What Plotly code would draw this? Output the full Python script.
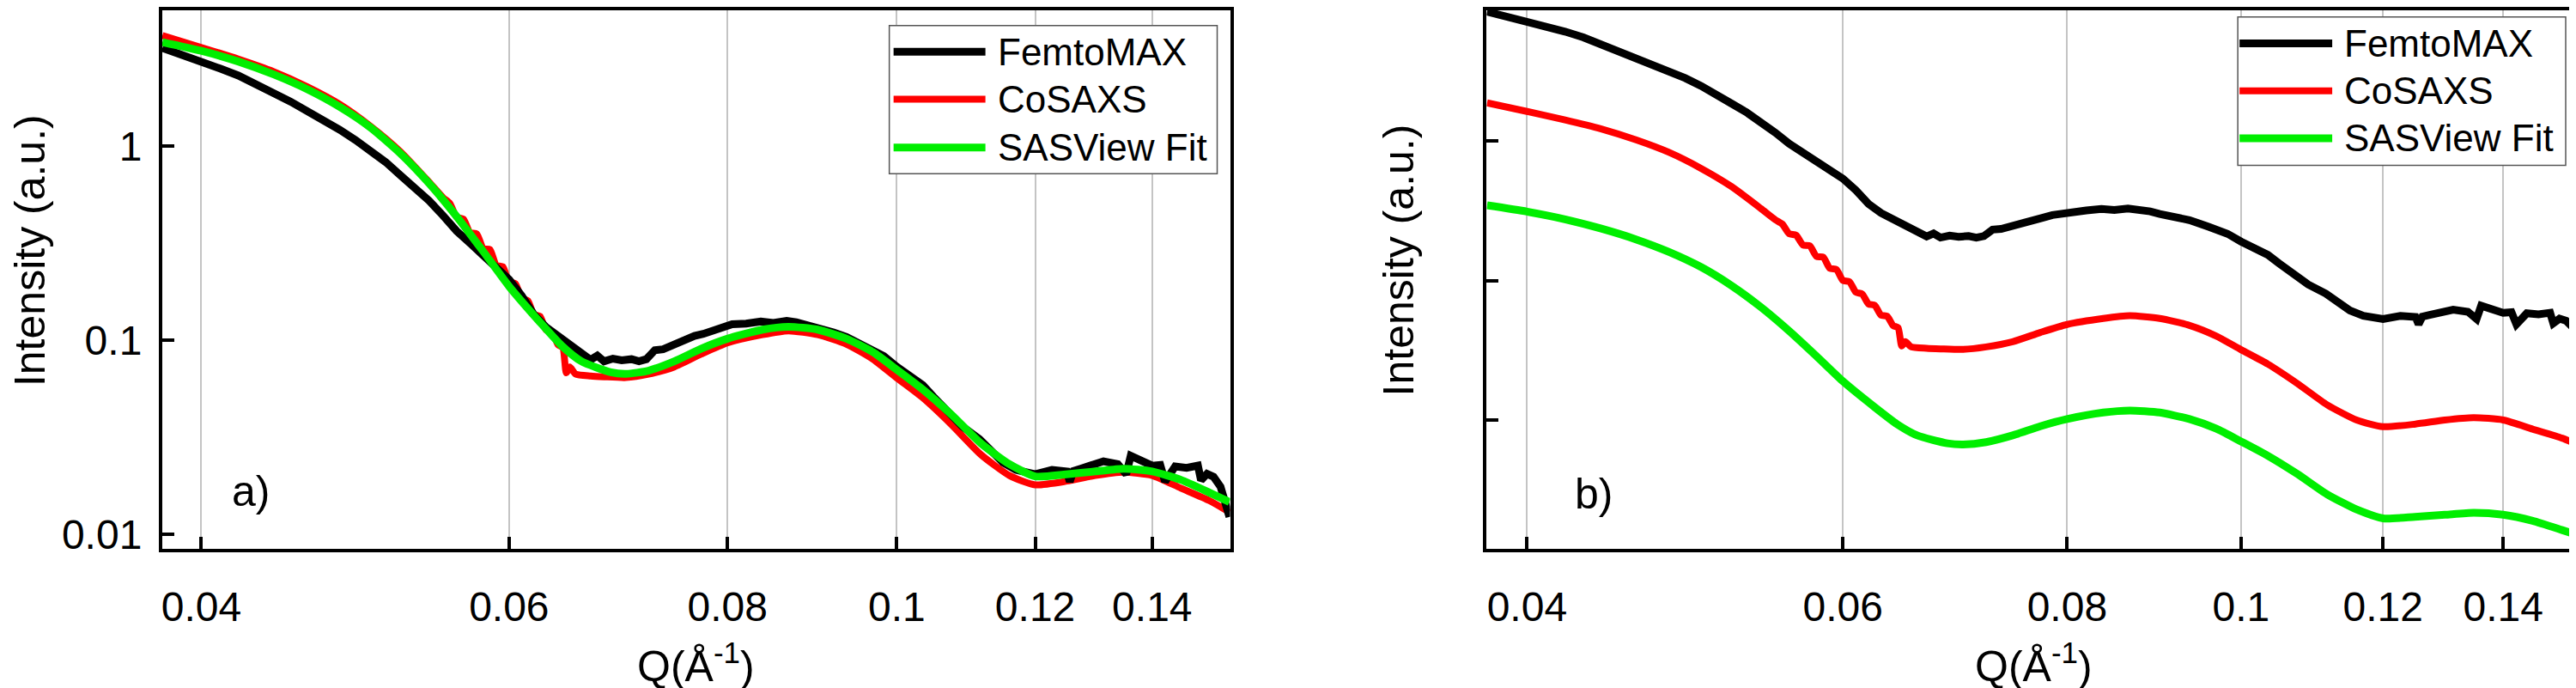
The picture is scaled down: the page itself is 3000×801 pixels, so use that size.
import plotly.graph_objs as go
from plotly.subplots import make_subplots

# FemtoMAX scattering curve (black), read off panel a)
q_femto = [0.038, 0.039, 0.040, 0.041, 0.042, 0.043, 0.044, 0.045, 0.046, 0.047,
           0.048, 0.049, 0.050, 0.051, 0.052, 0.053, 0.054, 0.055, 0.056, 0.057,
           0.058, 0.059, 0.060, 0.061, 0.062, 0.063, 0.064, 0.065, 0.066, 0.0668,
           0.0674, 0.068, 0.0688, 0.0696, 0.0705, 0.0712, 0.0719, 0.0727, 0.0735, 0.0746,
           0.0756, 0.0766, 0.0775, 0.0785, 0.0795, 0.0805, 0.082, 0.0836, 0.085, 0.0865,
           0.0876, 0.089, 0.0901, 0.092, 0.0936, 0.096, 0.0983, 0.100, 0.1018, 0.1035,
           0.105, 0.107, 0.109, 0.1115, 0.1133, 0.115, 0.117, 0.120, 0.1227, 0.1251,
           0.1256, 0.1262, 0.1274, 0.1295, 0.1313, 0.1338, 0.1353, 0.1361, 0.1379, 0.140,
           0.1415, 0.1424, 0.1443, 0.1465, 0.1487, 0.1493, 0.1505, 0.1518, 0.1532, 0.1541,
           0.155]
i_femto = [3.22, 2.98, 2.73, 2.52, 2.32, 2.11, 1.88, 1.70, 1.53, 1.37,
           1.22, 1.08, 0.95, 0.83, 0.71, 0.615, 0.525, 0.44, 0.366, 0.317,
           0.272, 0.238, 0.206, 0.170, 0.136, 0.117, 0.105, 0.095, 0.087, 0.0794,
           0.0834, 0.078, 0.0805, 0.079, 0.080, 0.078, 0.080, 0.089, 0.090, 0.0955,
           0.099, 0.1055, 0.108, 0.113, 0.116, 0.121, 0.122, 0.125, 0.123, 0.126,
           0.124, 0.120, 0.115, 0.110, 0.104, 0.093, 0.083, 0.0731, 0.065, 0.0587,
           0.051, 0.0427, 0.036, 0.031, 0.0265, 0.0235, 0.0215, 0.0204, 0.0215, 0.0211,
           0.0187, 0.0212, 0.0218, 0.0226, 0.0238, 0.0230, 0.0204, 0.0254, 0.0240, 0.0226,
           0.0228, 0.0187, 0.0224, 0.0220, 0.0226, 0.0190, 0.0205, 0.0198, 0.0176, 0.0140,
           0.0123]

# CoSAXS curve (red)
q_cosaxs = [0.038, 0.040, 0.042, 0.044, 0.046, 0.048, 0.050, 0.052, 0.054, 0.0550,
            0.0555, 0.0560, 0.0565, 0.0570, 0.0575, 0.0580, 0.0585, 0.0590, 0.0595, 0.0600,
            0.0605, 0.0610, 0.0615, 0.0620, 0.0625, 0.0630, 0.0635, 0.0640, 0.0644, 0.0647,
            0.0650, 0.0655, 0.0668, 0.0680, 0.0700, 0.0721, 0.0746, 0.0773, 0.0800, 0.0838,
            0.0867, 0.0901, 0.0936, 0.0969, 0.1000, 0.1035, 0.1075, 0.1117, 0.1160, 0.1200,
            0.1251, 0.1299, 0.1348, 0.1400, 0.1454, 0.1510, 0.1550]
i_cosaxs = [3.73, 3.24, 2.82, 2.43, 2.03, 1.65, 1.27, 0.94, 0.655, 0.545,
            0.508, 0.432, 0.422, 0.359, 0.354, 0.297, 0.294, 0.244, 0.240, 0.200,
            0.196, 0.165, 0.160, 0.136, 0.133, 0.113, 0.111, 0.095, 0.092, 0.068,
            0.073, 0.067, 0.0655, 0.0649, 0.0643, 0.067, 0.073, 0.085, 0.097, 0.107,
            0.112, 0.107, 0.0955, 0.080, 0.064, 0.0505, 0.0367, 0.0258, 0.0201, 0.018,
            0.0188, 0.0201, 0.0209, 0.0201, 0.0173, 0.0149, 0.0130]

# SASView model fit (green)
q_fit = [0.038, 0.040, 0.042, 0.044, 0.046, 0.048, 0.050, 0.052, 0.054, 0.056,
         0.058, 0.060, 0.0625, 0.0643, 0.066, 0.0686, 0.070, 0.0721, 0.0746, 0.0773,
         0.080, 0.0838, 0.0867, 0.0901, 0.0936, 0.0969, 0.100, 0.1035, 0.1075, 0.1117,
         0.116, 0.120, 0.125, 0.1299, 0.1348, 0.140, 0.1454, 0.151, 0.155]
i_fit = [3.45, 3.11, 2.74, 2.35, 1.97, 1.60, 1.25, 0.92, 0.645, 0.435,
         0.287, 0.190, 0.124, 0.094, 0.078, 0.0685, 0.0672, 0.0698, 0.078, 0.0907,
         0.102, 0.1136, 0.1175, 0.1136, 0.102, 0.087, 0.0706, 0.0558, 0.0413, 0.0295,
         0.023, 0.0199, 0.0204, 0.0211, 0.0218, 0.0211, 0.0191, 0.0164, 0.0147]

series_names = ['FemtoMAX', 'CoSAXS', 'SASView Fit']
series_colors = ['#000000', '#ff0000', '#00ee00']
series_widths = [9, 8, 9]

# multiplicative offsets used to stack the curves in panel b)
offsets_b = [2.6, 0.5, 0.1]

q_ticks = [0.04, 0.06, 0.08, 0.1, 0.12, 0.14]
q_ticktext = ['0.04', '0.06', '0.08', '0.1', '0.12', '0.14']
i_ticks = [0.01, 0.1, 1]
i_ticktext = ['0.01', '0.1', '1']

W, H = 3000, 801
FONT = 'Liberation Sans, Arial, sans-serif'


def px(x, y):
    # pixel position on the page -> paper coordinates
    return x / W, 1 - y / H


def add_curves(fig, col, factors):
    data = [(q_femto, i_femto), (q_cosaxs, i_cosaxs), (q_fit, i_fit)]
    # red first, then black, green on top
    for k in [1, 0, 2]:
        q, i = data[k]
        fig.add_trace(go.Scatter(x=q, y=[v * factors[k] for v in i], mode='lines',
                                 name=series_names[k], showlegend=False,
                                 line=dict(color=series_colors[k], width=series_widths[k],
                                           shape='linear' if k == 0 else 'spline',
                                           smoothing=0.6)),
                      row=1, col=col)


def add_legend(fig, box, line_x, text_x, rows_y):
    x0, y0 = px(box[0], box[1])
    x1, y1 = px(box[2], box[3])
    fig.add_shape(type='rect', xref='paper', yref='paper', x0=x0, y0=y0, x1=x1, y1=y1,
                  line=dict(color='#555555', width=1.5), fillcolor='white', layer='above')
    for k in range(3):
        lx0, ly = px(line_x[0], rows_y[k])
        lx1, _ = px(line_x[1], rows_y[k])
        fig.add_shape(type='line', xref='paper', yref='paper', x0=lx0, y0=ly, x1=lx1, y1=ly,
                      line=dict(color=series_colors[k], width=series_widths[k]), layer='above')
        tx, _ = px(text_x, rows_y[k])
        fig.add_annotation(text=series_names[k], x=tx, y=ly, xref='paper', yref='paper',
                           xanchor='left', yanchor='middle', showarrow=False,
                           font=dict(size=44, family=FONT, color='black'))


fig = make_subplots(rows=1, cols=2)

add_curves(fig, 1, [1, 1, 1])
add_curves(fig, 2, offsets_b)

axis_common = dict(ticks='inside', ticklen=14, tickwidth=4, tickcolor='black',
                   showline=True, linewidth=4, linecolor='black', mirror=True,
                   zeroline=False, tickfont=dict(size=48, family=FONT, color='black'))

fig.update_xaxes(type='log', tickvals=q_ticks, ticktext=q_ticktext, showgrid=True,
                 gridcolor='#c4c4c4', gridwidth=2, ticklabelstandoff=22, **axis_common)
fig.update_xaxes(range=[-1.4203, -0.8093], domain=[180 / W, 1424 / W], row=1, col=1)
fig.update_xaxes(range=[-1.4204, -0.8128], domain=[1723 / W, 2993 / W], row=1, col=2)

fig.update_yaxes(type='log', tickvals=i_ticks, ticktext=i_ticktext, showgrid=False,
                 domain=[1 - 638 / H, 1 - 2 / H], ticklabelstandoff=10, **axis_common)
fig.update_yaxes(range=[-2.076, 0.702], row=1, col=1)
fig.update_yaxes(range=[-2.921, 0.933], showticklabels=False, row=1, col=2)

# axis titles
for (cx, cy) in [(26, 285), (1620, 297)]:
    ax, ay = px(cx, cy)
    fig.add_annotation(text='Intensity (a.u.)', x=ax, y=ay, xref='paper', yref='paper',
                       textangle=-90, showarrow=False, xanchor='center', yanchor='middle',
                       font=dict(size=50, family=FONT, color='black'))
for cx in [802, 2360]:
    ax, ay = px(cx, 773)
    fig.add_annotation(text='Q(Å<sup>-1</sup>)', x=ax, y=ay, xref='paper', yref='paper',
                       showarrow=False, xanchor='center', yanchor='middle',
                       font=dict(size=50, family=FONT, color='black'))

# panel labels
for label, (cx, cy) in [('a)', (283, 570)), ('b)', (1848, 573))]:
    ax, ay = px(cx, cy)
    fig.add_annotation(text=label, x=ax, y=ay, xref='paper', yref='paper',
                       showarrow=False, xanchor='center', yanchor='middle',
                       font=dict(size=50, family=FONT, color='black'))

add_legend(fig, (1027, 20, 1409, 195), (1032, 1139), 1151, [51, 107, 164])
add_legend(fig, (2598, 10, 2980, 185), (2600, 2708), 2720, [41, 97, 153])

fig.update_layout(width=W, height=H, autosize=False,
                  margin=dict(l=0, r=0, t=0, b=0),
                  paper_bgcolor='white', plot_bgcolor='white',
                  showlegend=False,
                  font=dict(family=FONT, color='black'))

fig.write_html("out.html")
